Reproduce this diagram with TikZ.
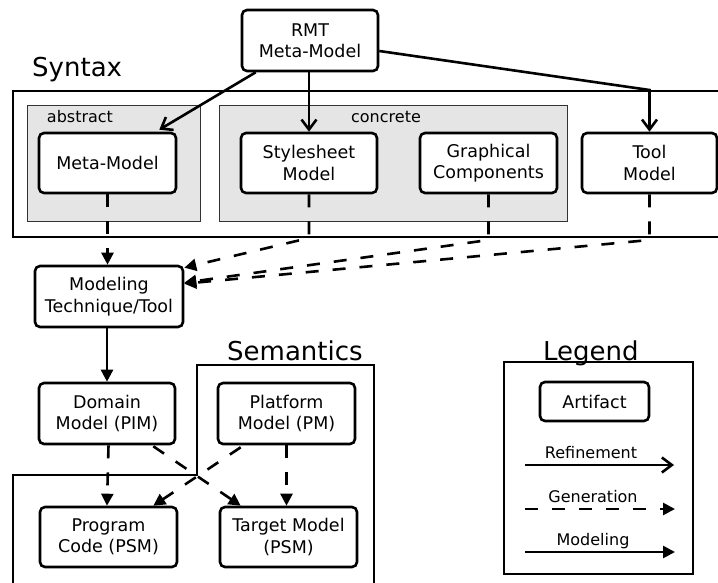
\documentclass[tikz,border=0pt]{standalone}
\usepackage{fontspec}
\setmainfont{DejaVu Sans}
\usetikzlibrary{arrows.meta,calc}
\begin{document}
\begin{tikzpicture}[x=1pt,y=-1pt]
\tikzset{
 art/.style={draw, line width=2.6pt, rounded corners=5pt, fill=white, align=center, inner sep=0pt, font=\fontsize{17.5}{21.5}\selectfont},
 grp/.style={draw=black!80, line width=1pt, fill=black!10},
 frame/.style={draw=black, line width=1.2pt},
 lbl/.style={font=\fontsize{16}{19}\selectfont, inner sep=0pt, anchor=base},
 big/.style={font=\fontsize{26}{30}\selectfont, inner sep=0pt, anchor=base west},
 refine/.style={line width=2.6pt, -{Straight Barb[length=10pt,width=15pt]}},
 gen/.style={line width=2.6pt, dash pattern=on 13pt off 14pt, -{Triangle[length=12pt,width=12pt]}},
 modl/.style={line width=2.6pt, -{Triangle[length=12pt,width=12pt]}},
}
\useasboundingbox (0,0) rectangle (718,583);
\clip (0,0) rectangle (718,583);

% frames
\draw[frame] (13,91) rectangle (730,237);
\draw[grp] (27,106) rectangle (200,221);
\draw[grp] (219,106) rectangle (567,221);
\draw[frame] (13,600) -- (13,475) -- (197,475) -- (197,365) -- (374,365) -- (374,600);
\draw[frame] (504,362) rectangle (693,574);

% big labels
\node[big] (syn) at (32,77) {Syntax};
\node[big] (sem) at (227,360) {Semantics};
\node[big] (leg) at (543,360) {Legend};
\node[lbl] (abs) at (80,123) {abstract};
\node[lbl] (con) at (386,123) {concrete};

% artifacts
\node[art, minimum width=136pt, minimum height=61pt] (rmt) at (310,40.5) {RMT\\Meta-Model};
\node[art, minimum width=137pt, minimum height=60pt] (meta) at (107.5,163) {Meta-Model};
\node[art, minimum width=136pt, minimum height=60pt] (style) at (309,163) {Stylesheet\\Model};
\node[art, minimum width=137pt, minimum height=60pt] (graph) at (488.5,163) {Graphical\\Components};
\node[art, minimum width=135pt, minimum height=60pt] (tool) at (649.5,163) {Tool\\Model};
\node[art, minimum width=148pt, minimum height=61pt] (mtt) at (109,296.5) {Modeling\\Technique/Tool};
\node[art, minimum width=136pt, minimum height=61pt] (dom) at (107,413.5) {Domain\\Model (PIM)};
\node[art, minimum width=137pt, minimum height=61pt] (plat) at (286.5,413.5) {Platform\\Model (PM)};
\node[art, minimum width=137pt, minimum height=60pt] (prog) at (108.5,537) {Program\\Code (PSM)};
\node[art, minimum width=137pt, minimum height=60pt] (targ) at (288.5,537) {Target Model\\(PSM)};
\node[art, minimum width=109pt, minimum height=39pt] (artf) at (594.5,401.5) {Artifact};

% refinement arrows
\draw[refine] ($(rmt.south west)+(15,0)$) -- ($(meta.north east)+(-18,-2)$);
\draw[refine] (style.north |- rmt.south) -- (style.north);
\draw[refine] ($(rmt.east)+(0,10.5)$) -- (tool.north |- 0,90) -- (tool.north);

% generation/modeling
\draw[gen] (meta.south) -- (meta.south |- mtt.north);
\draw[gen] (style.south) -- (style.south |- 0,238) -- ($(mtt.north east)+(0,3)$);
\draw[gen] (graph.south) -- (graph.south |- 0,240) -- ($(mtt.north east)+(0,18)$);
\draw[gen] (tool.south) -- (tool.south |- 0,240) -- ($(mtt.north east)+(0,19)$);
\draw[modl] (mtt.south -| dom.north) -- (dom.north);
\draw[gen] (dom.south -| prog.north) -- (prog.north -| dom.south);
\draw[gen] ($(dom.south east)+(-23,1)$) -- ($(targ.north west)+(22,0)$);
\draw[gen] ($(plat.south west)+(24,2)$) -- ($(prog.north east)+(-25,0)$);
\draw[gen] (plat.south) -- (plat.south |- targ.north);

% legend
\coordinate (r1) at (525,465); \coordinate (r2) at (674,465);
\coordinate (g1) at (525,509); \coordinate (g2) at (675,509);
\coordinate (m1) at (525,552); \coordinate (m2) at (675,552);
\node[lbl] (rt) at (591,458) {Refinement};
\node[lbl] (gt) at (593,502) {Generation};
\node[lbl] (mt) at (593,545) {Modeling};
\draw[refine] (r1) -- (r2);
\draw[gen] (g1) -- (g2);
\draw[modl] (m1) -- (m2);
\end{tikzpicture}
\end{document}
